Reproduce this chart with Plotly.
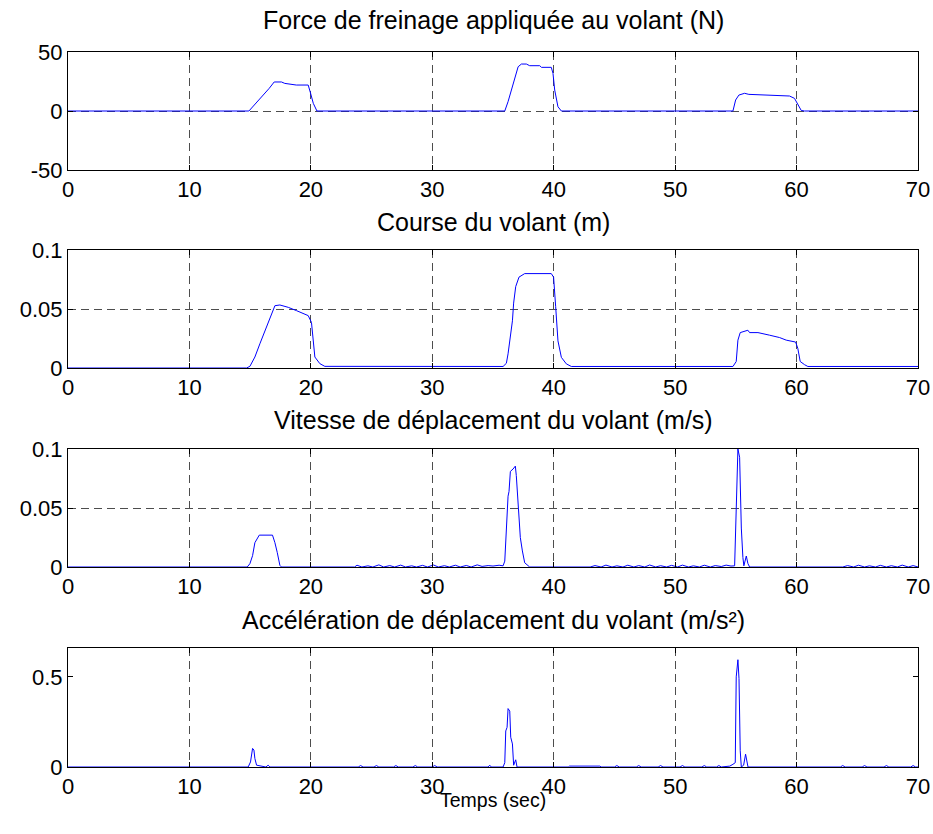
import plotly.graph_objects as go

# ---------------- data ----------------
force_t = [0, 14.9, 16.57, 16.98, 17.58, 17.85, 18.8, 19.78, 19.95, 20.2, 20.5,
           35.97, 36.24, 36.5, 36.87, 37.07, 37.34, 37.75, 38.02, 38.85, 38.99, 39.8,
           39.94, 40.08, 40.35, 40.63, 54.76, 54.98, 55.25, 55.72, 56.07, 57.78, 59.42,
           59.83, 60.1, 60.38, 60.66, 70]
force_v = [0, 0, 19.2, 24.6, 24.6, 23.4, 22, 22, 16, 6.5, 0,
           0, 7.9, 17.8, 31.9, 37.5, 39.8, 39.8, 38.4, 38.4, 37, 37,
           31.9, 17.8, 3.6, 0, 0, 9.3, 13.5, 15, 14.1, 13.5, 12.7,
           10.7, 5, 0.5, 0, 0]

course_t = [0, 14.7, 14.98, 15.39, 15.8, 16.21, 16.63, 17.04, 17.45, 18.14, 18.82, 19.78,
            20.05, 20.33, 20.74, 21.15, 35.83, 36.1, 36.24, 36.43, 36.6, 36.7, 36.87, 37.14,
            37.61, 39.8, 39.99, 40.16, 40.35, 40.63, 41.04, 41.45, 54.76, 55.03, 55.17, 55.36,
            55.72, 55.99, 56.13, 56.82, 57.78, 58.6, 59.15, 59.92, 60.1, 60.3, 60.66, 60.93, 70]
course_v = [0, 0, 0.0014, 0.0093, 0.0205, 0.0317, 0.0429, 0.0528, 0.0534, 0.0514, 0.0486, 0.0444,
            0.0387, 0.0093, 0.0037, 0.0014, 0.0013, 0.004, 0.012, 0.026, 0.040, 0.055, 0.069, 0.077,
            0.080, 0.080, 0.077, 0.052, 0.023, 0.009, 0.0035, 0.0013, 0.0013, 0.0055, 0.0236, 0.030,
            0.031, 0.032, 0.030, 0.030, 0.0278, 0.0258, 0.0236, 0.022, 0.0167, 0.0055, 0.0028, 0.0013, 0.0013]

speed_t = [0, 14.76, 14.98, 15.2, 15.39, 15.75, 16.84, 17.04, 17.23, 17.45, 17.58, 23.6,
           23.8, 24.2, 24.7, 25.1, 25.6, 26.0, 26.5, 26.9, 27.4, 27.8, 28.3, 28.7, 29.2, 29.6,
           30.1, 30.5, 31.0, 31.4, 31.9, 32.3, 32.8, 33.2, 33.7, 34.1, 34.6, 35.0, 35.5, 35.83,
           35.97, 36.05, 36.16, 36.24, 36.32, 36.43, 36.65, 36.84, 36.92, 37.14, 37.25, 37.42,
           37.61, 38.02, 43.0, 43.4, 43.9, 44.3, 44.8, 45.2, 45.7, 46.1, 46.6, 47.0, 47.5, 47.9,
           48.4, 48.8, 49.3, 49.7, 50.2, 50.6, 51.1, 51.5, 52.0, 52.4, 52.9, 53.3, 53.8, 54.2,
           54.6, 54.9, 55.03, 55.17, 55.31, 55.45, 55.58, 55.66, 55.86, 55.99, 56.13, 63.8,
           64.2, 64.7, 65.1, 65.6, 66.0, 66.5, 66.9, 67.4, 67.8, 68.3, 68.7, 69.2, 69.6, 70]
speed_v = [0, 0, 0.0028, 0.0096, 0.0206, 0.027, 0.027, 0.0206, 0.0124, 0.0014, 0, 0,
           0.0015, 0, 0.001, 0, 0.0018, 0, 0.0012, 0, 0.0016, 0, 0.001, 0, 0.0014, 0,
           0.0017, 0, 0.0011, 0, 0.0015, 0, 0.0013, 0, 0.0018, 0.0005, 0.0012, 0.0008, 0.0015, 0.001,
           0.005, 0.022, 0.0447, 0.060, 0.064, 0.081, 0.083, 0.0855, 0.0775, 0.047, 0.025, 0.0136,
           0.0036, 0, 0, 0.0012, 0, 0.0016, 0, 0.001, 0, 0.0015, 0, 0.0012, 0, 0.0017,
           0, 0.0011, 0, 0.0014, 0, 0.0016, 0, 0.001, 0, 0.0015, 0, 0.0012, 0.0004, 0.0016,
           0.0008, 0.001, 0.05, 0.1, 0.093, 0.033, 0.008, 0.001, 0.0093, 0.003, 0, 0,
           0.0012, 0, 0.0015, 0, 0.001, 0, 0.0014, 0, 0.0011, 0, 0.0016, 0, 0.0012, 0]

accel_t = [0, 14.84, 15.03, 15.12, 15.2, 15.31, 15.39, 15.53, 16.07, 16.3, 16.48, 16.63,
           23.9, 24.1, 24.3, 25.2, 25.4, 25.6, 26.8, 27.0, 27.2, 28.4, 28.6, 28.8, 30.0, 30.2, 30.4,
           34.6, 34.73, 34.86, 35.83, 35.97, 36.05, 36.16, 36.24, 36.38, 36.46, 36.6, 36.7, 36.79,
           36.87, 36.98, 41.2, 41.3, 43.8, 43.9, 45.0, 45.2, 45.4, 46.8, 47.0, 47.2, 48.6, 48.8, 49.0,
           50.4, 50.6, 50.8, 52.2, 52.4, 52.6, 53.4, 53.6, 53.8, 54.5, 54.76, 54.95, 55.03, 55.17,
           55.26, 55.36, 55.45, 55.64, 55.8, 55.91, 56.0, 63.6, 63.8, 64.0, 65.4, 65.6, 65.8,
           67.2, 67.4, 67.6, 69.4, 69.6, 69.8, 70]
accel_v = [0, 0, 0.028, 0.071, 0.103, 0.094, 0.047, 0.01, 0.005, 0, 0.01, 0,
           0, 0.008, 0, 0, 0.008, 0, 0, 0.008, 0, 0, 0.008, 0, 0, 0.008, 0,
           0, 0.01, 0, 0, 0.024, 0.2, 0.22, 0.324, 0.31, 0.165, 0.128, 0.01, 0.03,
           0.04, 0, 0, 0.005, 0.005, 0, 0, 0.008, 0, 0, 0.008, 0, 0, 0.008, 0,
           0, 0.008, 0, 0, 0.008, 0, 0, 0.008, 0, 0.005, 0.015, 0.024, 0.50, 0.595,
           0.49, 0.09, 0, 0.01, 0.071, 0.034, 0, 0, 0.008, 0, 0, 0.008, 0,
           0, 0.008, 0, 0, 0.008, 0, 0]

titles = ["Force de freinage appliquée au volant (N)",
          "Course du volant (m)",
          "Vitesse de déplacement du volant (m/s)",
          "Accélération de déplacement du volant (m/s²)"]
x_label = "Temps (sec)"
x_ticks = [0, 10, 20, 30, 40, 50, 60, 70]
y_ticks = [[-50, 0, 50], [0, 0.05, 0.1], [0, 0.05, 0.1], [0, 0.5]]
y_ticktext = [["-50", "0", "50"], ["0", "0.05", "0.1"], ["0", "0.05", "0.1"], ["0", "0.5"]]
y_ranges = [[-50, 50], [0, 0.1], [0, 0.1], [0, 0.66]]
y_grid = [True, True, True, False]

# ---------------- figure ----------------
W, H = 933, 834
x0, x1 = 68, 918
rows_px = [(52, 170), (250, 368), (449, 567), (648, 767)]
title_y_px = [20, 222, 420, 620]
xlabel_y_px = 800
FONT = "Liberation Sans, Arial, sans-serif"
FS_TICK = 22
FS_TITLE = 25
FS_XLABEL = 19.5

series = [(force_t, force_v), (course_t, course_v), (speed_t, speed_v), (accel_t, accel_v)]

fig = go.Figure()
for i, (t, v) in enumerate(series):
    sfx = "" if i == 0 else str(i + 1)
    fig.add_trace(go.Scatter(x=t, y=v, mode="lines", line=dict(color="#0000FF", width=1),
                             xaxis="x" + sfx, yaxis="y" + sfx, showlegend=False,
                             hoverinfo="skip"))
    top, bot = rows_px[i]
    common = dict(showline=True, mirror="ticks", linecolor="black", linewidth=1,
                  ticks="inside", ticklen=5, tickcolor="black",
                  gridcolor="#4d4d4d", griddash="8px,5px", gridwidth=1,
                  zeroline=False, automargin=False,
                  tickfont=dict(family=FONT, size=FS_TICK, color="black"))
    fig.layout["xaxis" + sfx] = dict(domain=[x0 / W, x1 / W], range=[0, 70], showgrid=True,
                                     tickvals=x_ticks, anchor="y" + sfx, **common)
    fig.layout["yaxis" + sfx] = dict(domain=[1 - bot / H, 1 - top / H], range=y_ranges[i],
                                     showgrid=y_grid[i],
                                     tickvals=y_ticks[i], ticktext=y_ticktext[i],
                                     anchor="x" + sfx, **common)
    fig.add_annotation(text=titles[i], x=(x0 + x1) / 2 / W, y=1 - title_y_px[i] / H,
                       xref="paper", yref="paper", showarrow=False,
                       xanchor="center", yanchor="middle",
                       font=dict(family=FONT, size=FS_TITLE, color="black"))

fig.add_annotation(text=x_label, x=(x0 + x1) / 2 / W, y=1 - xlabel_y_px / H,
                   xref="paper", yref="paper", showarrow=False,
                   xanchor="center", yanchor="middle",
                   font=dict(family=FONT, size=FS_XLABEL, color="black"))

fig.update_layout(width=W, height=H, margin=dict(l=0, r=0, t=0, b=0),
                  paper_bgcolor="white", plot_bgcolor="white")

fig.write_html("out.html", config={"displayModeBar": False})
